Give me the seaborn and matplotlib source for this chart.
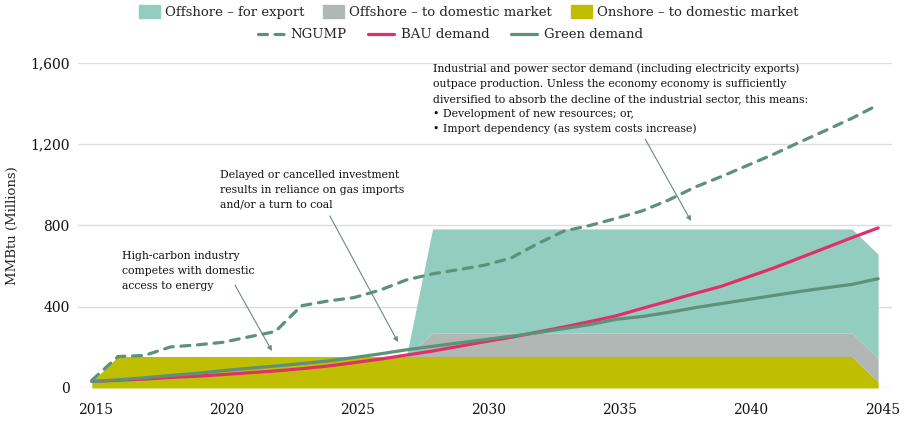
import numpy as np
import pandas as pd
import matplotlib
matplotlib.use("Agg")
import matplotlib.pyplot as plt
import matplotlib.transforms as mtransforms
from matplotlib.patches import Patch
from matplotlib.lines import Line2D
import seaborn as sns

# -----------------------------------
# DATA (MMBtu, millions)
# -----------------------------------

years = [2015, 2016, 2017, 2018, 2019, 2020, 2021, 2022, 2023, 2024,
         2025, 2026, 2027, 2028, 2029, 2030, 2031, 2032, 2033, 2034,
         2035, 2036, 2037, 2038, 2039, 2040, 2041, 2042, 2043, 2044, 2045]

onshore_domestic = [31, 155, 155, 155, 155, 155, 155, 155, 155, 155,
                    155, 155, 155, 155, 155, 155, 155, 155, 155, 155,
                    155, 155, 155, 155, 155, 155, 155, 155, 155, 155, 30]

offshore_domestic = [0, 0, 0, 0, 0, 0, 0, 0, 0, 0,
                     0, 0, 0, 116, 116, 116, 116, 116, 116, 116,
                     116, 116, 116, 116, 116, 116, 116, 116, 116, 116, 116]

offshore_export = [0, 0, 0, 0, 0, 0, 0, 0, 0, 0,
                   0, 0, 0, 512, 512, 512, 512, 512, 512, 512,
                   512, 512, 512, 512, 512, 512, 512, 512, 512, 512, 512]

ngump = [38, 155, 160, 202, 212, 225, 252, 278, 405, 428,
         445, 482, 532, 562, 583, 605, 640, 710, 772, 800,
         835, 872, 925, 988, 1040, 1095, 1150, 1210, 1268, 1328, 1394]

bau_demand = [32, 38, 44, 52, 58, 66, 75, 84, 95, 108,
              125, 142, 162, 182, 205, 228, 250, 275, 300, 327,
              355, 392, 428, 465, 500, 545, 590, 640, 690, 740, 788]

green_demand = [32, 40, 50, 62, 72, 85, 97, 108, 120, 133,
                150, 168, 188, 205, 222, 238, 255, 272, 292, 312,
                338, 352, 372, 395, 415, 435, 455, 475, 493, 510, 538]

x_ticks = [2015, 2020, 2025, 2030, 2035, 2040, 2045]
y_ticks = [0, 400, 800, 1200, 1600]

df = pd.DataFrame({
    "Year": years,
    "NGUMP": ngump,
    "BAU demand": bau_demand,
    "Green demand": green_demand,
})

# -----------------------------------
# STYLE
# -----------------------------------

sns.set_theme(style="white")
plt.rcParams["font.family"] = ["DejaVu Serif"]

C_EXPORT = "#93CDBF"
C_OFFDOM = "#B1B7B5"
C_ONSHORE = "#C0BE00"
C_PINK = "#E0306A"
C_GREEN = "#5C917A"
C_ARROW = "#6A8A86"

fig = plt.figure(figsize=(9.15, 4.21), dpi=100)
ax = fig.add_axes([0.0852, 0.0784, 0.8897, 0.772])

# -----------------------------------
# STACKED AREAS
# -----------------------------------

ax.stackplot(years, onshore_domestic, offshore_domestic, offshore_export,
             colors=[C_ONSHORE, C_OFFDOM, C_EXPORT], linewidth=0, zorder=2)

# -----------------------------------
# LINES
# -----------------------------------

sns.lineplot(data=df, x="Year", y="NGUMP", ax=ax, color=C_GREEN, lw=2.3,
             dashes=False, zorder=4)
ax.lines[-1].set_dashes((2.8, 2.4))
ax.lines[-1].set_dash_capstyle("round")
sns.lineplot(data=df, x="Year", y="BAU demand", ax=ax, color=C_PINK, lw=2.3, zorder=5)
sns.lineplot(data=df, x="Year", y="Green demand", ax=ax, color=C_GREEN, lw=2.3, zorder=6)

# -----------------------------------
# AXES
# -----------------------------------

ax.set_xlim(2014.47, 2045.53)
ax.set_ylim(0, 1600)
ax.set_xticks(x_ticks)
ax.set_yticks(y_ticks)
ax.set_yticklabels([f"{v:,}" for v in y_ticks])
ax.set_xlabel("")
ax.set_ylabel("MMBtu (Millions)", fontsize=9.5, labelpad=8)
ax.grid(axis="y", color="#DDDDDD", lw=1, zorder=0)
ax.set_axisbelow(True)
for s in ax.spines.values():
    s.set_visible(False)
ax.tick_params(axis="both", length=0, labelsize=10, colors="#111111")
ax.tick_params(axis="y", pad=6)
ax.tick_params(axis="x", pad=11)
shift = mtransforms.ScaledTranslation(4 / 100, 0, fig.dpi_scale_trans)
for lab in ax.get_xticklabels():
    lab.set_transform(lab.get_transform() + shift)

# -----------------------------------
# ANNOTATIONS
# -----------------------------------

txt_kw = dict(fontsize=7.8, va="top", ha="left", color="#111111", linespacing=1.6, zorder=7)
ax.text(2016.15, 672, "High-carbon industry\ncompetes with domestic\naccess to energy", **txt_kw)
ax.text(2019.89, 1072, "Delayed or cancelled investment\nresults in reliance on gas imports\nand/or a turn to coal", **txt_kw)
ax.text(2028.02, 1596,
        "Industrial and power sector demand (including electricity exports)\n"
        "outpace production. Unless the economy economy is sufficiently\n"
        "diversified to absorb the decline of the industrial sector, this means:\n"
        "\u2022 Development of new resources; or,\n"
        "\u2022 Import dependency (as system costs increase)", **txt_kw)

arrow_kw = dict(arrowstyle="-|>", color=C_ARROW, lw=0.8, mutation_scale=7, shrinkA=0, shrinkB=0)
ax.annotate("", xy=(2021.87, 182), xytext=(2020.46, 507), arrowprops=arrow_kw, zorder=8)
ax.annotate("", xy=(2026.68, 226), xytext=(2024.08, 847), arrowprops=arrow_kw, zorder=8)
ax.annotate("", xy=(2037.86, 822), xytext=(2036.11, 1226), arrowprops=arrow_kw, zorder=8)

# -----------------------------------
# LEGENDS
# -----------------------------------

area_handles = [
    Patch(color=C_EXPORT, label="Offshore \u2013 for export"),
    Patch(color=C_OFFDOM, label="Offshore \u2013 to domestic market"),
    Patch(color=C_ONSHORE, label="Onshore \u2013 to domestic market"),
]
line_handles = [
    Line2D([], [], color=C_GREEN, lw=2.3, dashes=(2.8, 2.4), dash_capstyle="round", label="NGUMP"),
    Line2D([], [], color=C_PINK, lw=2.3, label="BAU demand"),
    Line2D([], [], color=C_GREEN, lw=2.3, label="Green demand"),
]
fig.legend(handles=area_handles, loc="center", bbox_to_anchor=(0.512, 0.971),
           ncol=3, frameon=False, fontsize=9.5, handlelength=1.6, handleheight=1.1,
           handletextpad=0.4, columnspacing=1.4)
fig.legend(handles=line_handles, loc="center", bbox_to_anchor=(0.492, 0.917),
           ncol=3, frameon=False, fontsize=9.5, handlelength=2.0,
           handletextpad=0.5, columnspacing=1.6)

plt.savefig("out.png", dpi=100)
